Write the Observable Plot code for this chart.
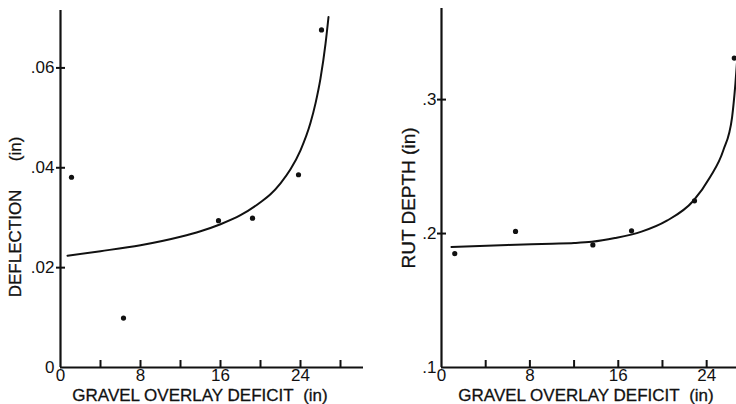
<!DOCTYPE html>
<html>
<head>
<meta charset="utf-8">
<script src="https://cdn.jsdelivr.net/npm/d3@7"></script>
<script src="https://cdn.jsdelivr.net/npm/@observablehq/plot@0.6"></script>
<style>
  body { margin: 0; background: #fff; width: 736px; height: 404px; overflow: hidden; }
  #charts { display: flex; width: 736px; }
  #charts svg { display: block; flex: none; }
</style>
</head>
<body>
<div id="charts"></div>
<script>
// Shared x axis: gravel overlay deficit (in)
const xLabel = "GRAVEL OVERLAY DEFICIT\u00a0\u00a0(in)";
const xTickLabels = [0, 8, 16, 24];

// Left panel: deflection (in)
const deflectionLabel = "DEFLECTION\u00a0\u00a0\u00a0\u00a0\u00a0\u00a0(in)";
const deflectionTicks = [0, 0.02, 0.04, 0.06];
const deflectionXTicks = [4, 8, 12, 16, 20, 24, 28];
const deflectionDeficit = [1.1, 6.3, 15.8, 19.2, 23.8, 26.1];
const deflectionValue = [0.0381, 0.0099, 0.0294, 0.0299, 0.0386, 0.0676];
const deflectionFitX = [0.7, 4, 8, 12, 14, 16, 18, 20, 21, 22, 23, 24, 25, 25.5, 26, 26.5, 26.8];
const deflectionFitY = [0.0224, 0.0233, 0.0245, 0.0262, 0.0273, 0.0287, 0.0305, 0.0331, 0.0347,
                        0.0369, 0.0397, 0.0435, 0.0490, 0.0529, 0.0579, 0.0648, 0.0702];

// Right panel: rut depth (in)
const rutLabel = "RUT DEPTH (in)";
const rutTicks = [0.1, 0.2, 0.3];
const rutXTicks = [4, 8, 12, 16, 20, 24];
const rutDeficit = [1.2, 6.7, 13.7, 17.2, 22.9, 26.5];
const rutValue = [0.185, 0.2016, 0.1915, 0.202, 0.2244, 0.331];
const rutFitX = [0.9, 6, 10, 12, 13.6, 15.7, 18.1, 20.4, 22.8, 24.3, 25.5, 26.3, 26.6, 26.9];
const rutFitY = [0.190, 0.1915, 0.1924, 0.1929, 0.1938, 0.1966, 0.2014, 0.2096, 0.2245, 0.242, 0.262, 0.2868, 0.3117, 0.345];

const font = "'Liberation Sans', Arial, Helvetica, sans-serif";
const ink = "#111";

function panel({width, marginLeft, marginRight, marginTop, marginBottom, xDomain, yDomain,
                yTicks, yFormat, xTicks, deficit, value, fitX, fitY, yLabel, yLabelSize,
                yLabelDx, yLabelDy, xLabelDx, yTickPadding}) {
  const points = deficit.map((d, i) => ({x: d, y: value[i]}));
  const fit = fitX.map((d, i) => ({x: d, y: fitY[i]}));
  return Plot.plot({
    width, height: 404,
    marginLeft, marginRight, marginTop, marginBottom,
    style: {fontFamily: font, fontSize: "17px", color: ink, background: "#fff"},
    x: {domain: xDomain},
    y: {domain: yDomain},
    marks: [
      // axis lines
      Plot.ruleX([xDomain[0]], {stroke: ink, strokeWidth: 2.2}),
      Plot.ruleY([yDomain[0]], {stroke: ink, strokeWidth: 2.2}),
      // tick marks crossing the axes
      Plot.ruleY(yTicks.filter(d => d > yDomain[0]), {y: d => d, x1: xDomain[0], x2: xDomain[0],
        insetLeft: -4, insetRight: -5, stroke: ink, strokeWidth: 2}),
      Plot.ruleX(xTicks, {x: d => d, y1: yDomain[0], y2: yDomain[0],
        insetTop: -7, insetBottom: -1, stroke: ink, strokeWidth: 2}),
      // tick labels
      Plot.axisY(yTicks, {tickSize: 0, tickPadding: yTickPadding, tickFormat: yFormat,
        fontSize: 17, label: null, fill: ink}),
      Plot.axisX(xTickLabels, {tickSize: 0, tickPadding: 1, fontSize: 17, label: null, fill: ink}),
      // fitted curve and observations
      Plot.line(fit, {x: "x", y: "y", curve: "monotone-x", stroke: ink, strokeWidth: 2, clip: true}),
      Plot.dot(points, {x: "x", y: "y", r: 2.6, fill: ink, clip: true}),
      // axis titles
      Plot.text([xLabel], {text: d => d, frameAnchor: "bottom", lineAnchor: "bottom", dy: 33, dx: xLabelDx,
        fontSize: 17, fill: ink, stroke: ink, strokeWidth: 0.3}),
      Plot.text([yLabel], {text: d => d, frameAnchor: "left", textAnchor: "middle", rotate: -90,
        dx: yLabelDx, dy: yLabelDy,
        fontSize: yLabelSize, fill: ink, stroke: ink, strokeWidth: 0.3})
    ]
  });
}

const left = panel({
  width: 368, marginLeft: 60, marginRight: 5, marginTop: 10, marginBottom: 37,
  xDomain: [0, 30.3], yDomain: [0, 0.0715],
  yTicks: deflectionTicks, yFormat: d => d === 0 ? "0" : d.toFixed(2).replace(/^0/, ""),
  xTicks: deflectionXTicks, deficit: deflectionDeficit, value: deflectionValue,
  fitX: deflectionFitX, fitY: deflectionFitY,
  yLabel: deflectionLabel, yLabelSize: 17, yLabelDx: -45, yLabelDy: 28, xLabelDx: -12,
  yTickPadding: 6
});

const right = panel({
  width: 368, marginLeft: 73, marginRight: 0, marginTop: 8, marginBottom: 37,
  xDomain: [0, 26.7], yDomain: [0.1, 0.368],
  yTicks: rutTicks, yFormat: d => d.toFixed(1).replace(/^0/, ""),
  xTicks: rutXTicks, deficit: rutDeficit, value: rutValue,
  fitX: rutFitX, fitY: rutFitY,
  yLabel: rutLabel, yLabelSize: 19, yLabelDx: -33, yLabelDy: 10, xLabelDx: -3,
  yTickPadding: 5
});

document.getElementById("charts").append(left, right);
</script>
</body>
</html>
